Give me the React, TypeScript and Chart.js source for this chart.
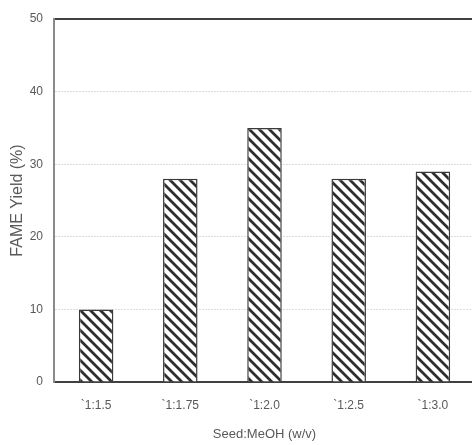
import React, { useEffect, useRef } from "react";
import { Chart, registerables } from "chart.js";

Chart.register(...registerables);

const categories = ["`1:1.5", "`1:1.75", "`1:2.0", "`1:2.5", "`1:3.0"];
const yieldValues = [10, 28, 35, 28, 29];
const yTicks = [0, 10, 20, 30, 40, 50];
const xTitle = "Seed:MeOH (w/v)";
const yTitle = "FAME Yield (%)";

function makeHatch(): CanvasPattern | string {
  const s = 10;
  const c = document.createElement("canvas");
  c.width = s;
  c.height = s;
  const g = c.getContext("2d");
  if (!g) return "#888";
  g.fillStyle = "#ffffff";
  g.fillRect(0, 0, s, s);
  g.strokeStyle = "#2e2e2e";
  g.lineWidth = 2.8;
  g.beginPath();
  for (const k of [-s, 0, s]) {
    g.moveTo(k - 1, -1);
    g.lineTo(k + s + 1, s + 1);
  }
  g.stroke();
  const p = g.createPattern(c, "repeat");
  return p || "#888";
}

export default function App() {
  const ref = useRef<HTMLCanvasElement | null>(null);

  useEffect(() => {
    if (!ref.current) return;
    const hatch = makeHatch();
    const fam = "'Liberation Sans', Arial, sans-serif";
    const chart = new Chart(ref.current, {
      type: "bar",
      data: {
        labels: categories,
        datasets: [
          {
            data: yieldValues,
            backgroundColor: hatch as any,
            borderColor: "#3a3a3a",
            borderWidth: 1.5,
            barPercentage: 0.41,
            categoryPercentage: 1,
          },
        ],
      },
      options: {
        animation: false,
        responsive: false,
        devicePixelRatio: 1,
        layout: { padding: { top: 19, right: 15, left: 0, bottom: 0 } },
        plugins: {
          legend: { display: false },
          tooltip: { enabled: false },
        },
        scales: {
          x: {
            grid: { display: false, drawTicks: false },
            border: { display: true, color: "#404040", width: 2 },
            ticks: { color: "#595959", font: { family: fam, size: 12 }, padding: 16 },
            title: {
              display: true,
              text: xTitle,
              color: "#595959",
              font: { family: fam, size: 13 },
              padding: { top: 0, bottom: 3 },
            },
            afterFit: (s: any) => {
              s.height = 63;
            },
          },
          y: {
            min: 0,
            max: 50,
            afterBuildTicks: (s: any) => {
              s.ticks = yTicks.map((v) => ({ value: v }));
            },
            grid: {
              drawTicks: false,
              color: (c: any) =>
                c.tick && c.tick.value === 50
                  ? "#404040"
                  : c.tick && c.tick.value === 0
                  ? "rgba(0,0,0,0)"
                  : "#dcdcdc",
              lineWidth: (c: any) => (c.tick && c.tick.value === 50 ? 2 : 1),
            },
            border: {
              display: true,
              color: "#8a8a8a",
              width: 2,
              dash: (c: any) =>
                c.tick && c.tick.value !== 50 && c.tick.value !== 0 ? [2, 1] : [],
            },
            ticks: { color: "#595959", font: { family: fam, size: 12 }, padding: 11 },
            title: {
              display: true,
              text: yTitle,
              color: "#595959",
              font: { family: fam, size: 16 },
              padding: { top: 8, bottom: 0 },
            },
            afterFit: (s: any) => {
              s.width = 54;
            },
          },
        },
      },
    });
    return () => chart.destroy();
  }, []);

  return (
    <div
      style={{
        position: "fixed",
        left: 0,
        top: 0,
        width: 472,
        height: 445,
        overflow: "hidden",
        background: "#fff",
      }}
    >
      <canvas ref={ref} width={490} height={445} style={{ width: 490, height: 445, display: "block" }} />
    </div>
  );
}
